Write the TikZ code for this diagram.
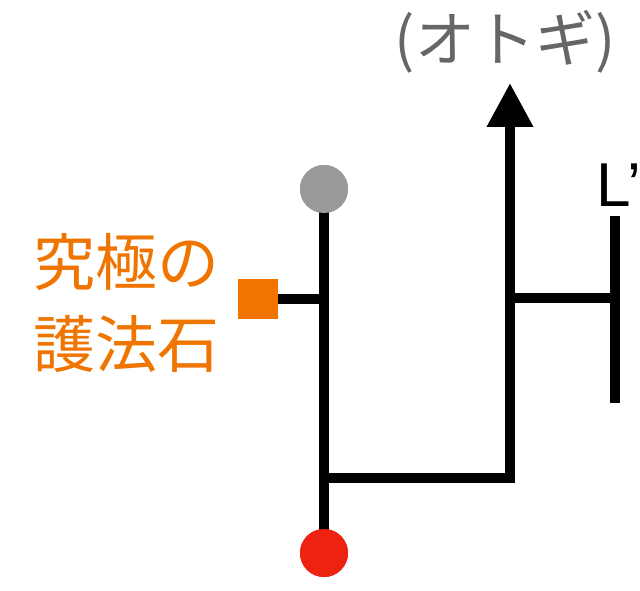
\documentclass[tikz,border=0pt]{standalone}
\usepackage{fontspec}
\newfontfamily\jp{Noto Sans CJK JP}
\newfontfamily\lat{Liberation Sans}
\usetikzlibrary{arrows.meta}
\definecolor{orng}{HTML}{F07400}
\definecolor{rd}{HTML}{EE2211}
\definecolor{gry}{HTML}{999999}
\definecolor{txtgry}{HTML}{666666}
\tikzset{
  wire/.style={line width=10pt, black, line cap=butt, line join=miter},
  dot/.style={circle, inner sep=0pt, minimum size=48pt},
}
\begin{document}
\begin{tikzpicture}[x=1pt,y=-1pt]
\useasboundingbox (0,0) rectangle (640,591);
% nodes
\node[dot, fill=gry] (g) at (324,189) {};
\node[dot, fill=rd] (r) at (324,553) {};
\node[fill=orng, inner sep=0pt, minimum size=40pt] (sq) at (258,299) {};
\coordinate (jl) at (324,299);
\coordinate (jb) at (324,478);
\coordinate (tip) at (510,83);
\coordinate (jr) at (510,297.5);
\coordinate (lt) at (615,216);
\coordinate (lb) at (615,403);
\coordinate (lm) at (615,297.5);
% wires
\draw[wire] (g.center) -- (r.center);
\draw[wire] (sq.east) -- (jl);
\draw[wire, -{Triangle[length=44pt,width=44pt]}] (jb) -| (tip);
\draw[wire] (jr) -- (lm);
\draw[wire] (lt) -- (lb);
\node[dot, fill=gry] at (g) {};
\node[dot, fill=rd] at (r) {};
% texts
\node[text=txtgry, font=\jp\fontsize{60}{62}\selectfont, inner sep=0pt] (top) at (505,42) {(オトギ)};
\node[anchor=base west, font=\lat\fontsize{62}{64}\selectfont, inner sep=0pt] (lp) at (596,206) {L’};
\node[text=orng, font=\jp\fontsize{62}{64}\selectfont, inner sep=0pt] (t1) at (127,262) {究極の};
\node[text=orng, font=\jp\fontsize{62}{64}\selectfont, inner sep=0pt] (t2) at (127,344) {護法石};
\end{tikzpicture}
\end{document}
